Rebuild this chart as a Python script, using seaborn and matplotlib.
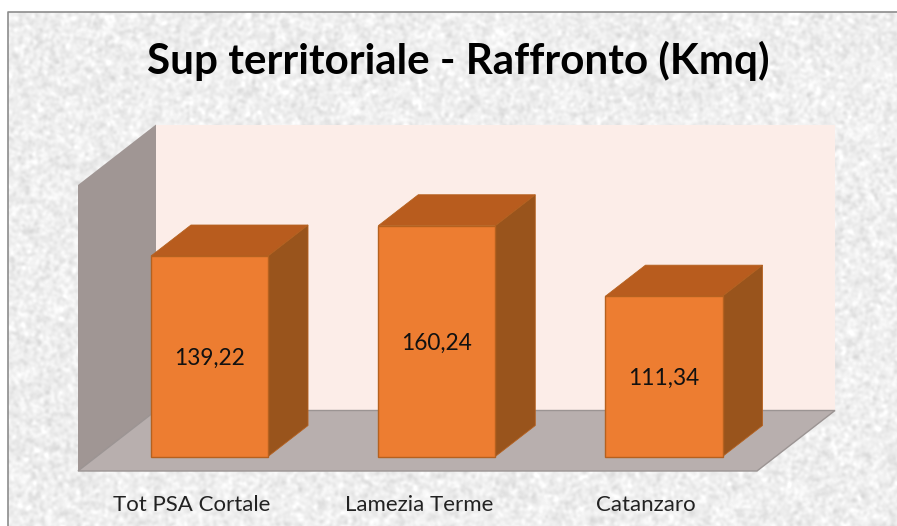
import numpy as np
import pandas as pd
import seaborn as sns
import matplotlib.pyplot as plt
from matplotlib.patches import Polygon, Rectangle
from matplotlib.transforms import ScaledTranslation

categories = ["Tot PSA Cortale", "Lamezia Terme", "Catanzaro"]
values = [139.22, 160.24, 111.34]
value_labels = ["139,22", "160,24", "111,34"]
title = "Sup territoriale - Raffronto (Kmq)"

W, H = 897, 526
ORANGE = "#ED7D31"
TOP = "#B85C1E"
SIDE = "#99541C"
EDGE = "#B5611F"
BACK_WALL = "#FCEDE8"
LEFT_WALL = "#A09694"
FLOOR = "#B8AFAE"

sns.set_theme(style="white")
plt.rcParams["font.family"] = ["Lato", "DejaVu Sans"]

fig = plt.figure(figsize=(W / 100, H / 100), dpi=100, facecolor="white")


def px_axes(left, top, right, bottom):
    return fig.add_axes([left / W, 1 - bottom / H, (right - left) / W, (bottom - top) / H])


# paper texture behind the chart
bg = px_axes(0, 0, W, H)
rng = np.random.default_rng(4)
noise = rng.normal(size=(H, W))
fx = np.fft.fftfreq(W)[None, :]
fy = np.fft.fftfreq(H)[:, None]
blur = np.exp(-(fx ** 2 + fy ** 2) * 2 * (np.pi * 1.6) ** 2)
tex = np.fft.ifft2(np.fft.fft2(noise) * blur).real
tex = tex / tex.std()
bg.imshow(np.clip(238 + 6 * tex, 205, 255), cmap="gray", vmin=0, vmax=255, extent=(0, W, H, 0), aspect="auto")
bg.add_patch(Rectangle((0, 0), 8, H, fc="white", ec="none"))
bg.add_patch(Rectangle((0, 0), W, 12, fc="white", ec="none"))
bg.plot([8, 8, W], [H, 12, 12], color="#8c8c8c", lw=1.2)
bg.set_xlim(0, W)
bg.set_ylim(H, 0)
bg.axis("off")

# main axes: covers the front of the floor up to the top of the left wall
left, right, top, bottom = 78, 757, 185, 471
ax = px_axes(left, top, right, bottom)
ax.patch.set_alpha(0)
df = pd.DataFrame({"area": categories, "value": values})
sns.barplot(data=df, x="area", y="value", width=0.515, color=ORANGE, saturation=1,
            edgecolor=EDGE, linewidth=1, ax=ax, zorder=5)

px_x = 227.25
px_y = 1.44
ax.set_xlim(-(209.5 - left) / px_x, (right - 209.5) / px_x)
ax.set_ylim(-(bottom - 456.5) / px_y, (456.5 - top) / px_y)
ymin, ymax = ax.get_ylim()
xmin, xmax = ax.get_xlim()
wall_dx = 78 / px_x
wall_dy = 60.5 / px_y
bar_dx = 40 / px_x
bar_dy = 31 / px_y

# walls and floor
ax.add_patch(Polygon([(xmin + wall_dx, ymin + wall_dy), (xmax + wall_dx, ymin + wall_dy),
                      (xmax + wall_dx, ymax + wall_dy), (xmin + wall_dx, ymax + wall_dy)],
                     fc=BACK_WALL, ec="none", clip_on=False, zorder=1))
ax.add_patch(Polygon([(xmin, ymin), (xmin + wall_dx, ymin + wall_dy),
                      (xmin + wall_dx, ymax + wall_dy), (xmin, ymax)],
                     fc=LEFT_WALL, ec="none", clip_on=False, zorder=2))
ax.add_patch(Polygon([(xmin, ymin), (xmax, ymin), (xmax + wall_dx, ymin + wall_dy),
                      (xmin + wall_dx, ymin + wall_dy)],
                     fc=FLOOR, ec="#9b9493", lw=1, clip_on=False, zorder=2))

# depth faces built from the bars seaborn drew
for bar, label in zip(ax.patches[:3], value_labels):
    x0, w, h = bar.get_x(), bar.get_width(), bar.get_height()
    x1 = x0 + w
    ax.add_patch(Polygon([(x0, h), (x1, h), (x1 + bar_dx, h + bar_dy), (x0 + bar_dx, h + bar_dy)],
                         fc=TOP, ec=EDGE, lw=0.6, clip_on=False, zorder=4))
    ax.add_patch(Polygon([(x1, 0), (x1 + bar_dx, bar_dy), (x1 + bar_dx, h + bar_dy), (x1, h)],
                         fc=SIDE, ec=EDGE, lw=0.6, clip_on=False, zorder=4))
    ax.text(x0 + w / 2, h / 2 - 1.5, label, ha="center", va="center", fontsize=16.3,
            color="#111111", zorder=6)
    bar.set_clip_on(False)

ax.set_xlabel("")
ax.set_ylabel("")
ax.set_yticks([])
ax.tick_params(axis="x", length=0, pad=17.5, labelsize=16, labelcolor="#222222")
shift = ScaledTranslation(-18 / 100, 0, fig.dpi_scale_trans)
for tick_label in ax.get_xticklabels():
    tick_label.set_transform(tick_label.get_transform() + shift)
sns.despine(ax=ax, left=True, bottom=True)

fig.text(458 / W, 1 - 61 / H, title, ha="center", va="center", fontsize=30.3,
         fontweight="bold", color="black")

fig.savefig("out.png", dpi=100)
